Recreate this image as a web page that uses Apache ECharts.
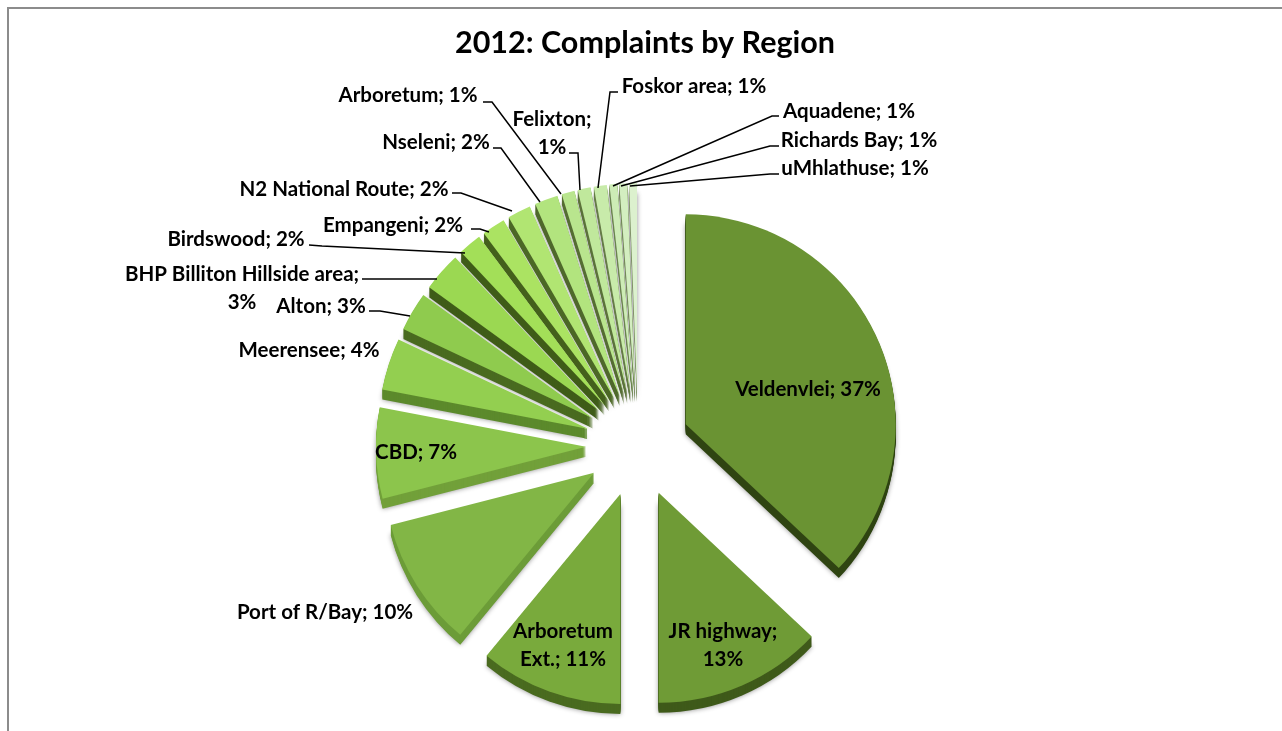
<!DOCTYPE html>
<html>
<head>
<meta charset="utf-8">
<title>2012: Complaints by Region</title>
<style>
  html, body { margin: 0; padding: 0; background: #fff; }
  #chart { width: 1282px; height: 731px; }
</style>
<script src="https://cdn.jsdelivr.net/npm/echarts@6/dist/echarts.min.js"></script>
</head>
<body>
<div id="chart"></div>
<script>
// values, the thin slices are narrower than their rounded 1%
const regions = ['Veldenvlei', 'JR highway', 'Arboretum Ext.', 'Port of R/Bay', 'CBD', 'Meerensee', 'Alton',
  'BHP Billiton Hillside area', 'Birdswood', 'Empangeni', 'N2 National Route', 'Nseleni', 'Arboretum',
  'Felixton', 'Foskor area', 'Aquadene', 'Richards Bay', 'uMhlathuse']
const percents = [37, 13, 11, 10, 7, 4, 3, 3, 1.8, 1.8, 1.8, 1.8, 1, 1, 1, 0.6, 0.6, 0.6]
// labels that wrap in the original
const wrapped = {
  'JR highway': 'JR highway;\n13%',
  'Arboretum Ext.': 'Arboretum\nExt.; 11%',
  'BHP Billiton Hillside area': 'BHP Billiton Hillside area;\n3%',
  'Felixton': 'Felixton;\n1%'
}

const faceColors = ['#6a9333', '#6f9b36', '#79aa3c', '#82b646', '#8cc54c', '#93cf50', '#8fcb4e',
  '#9bd852', '#a3df58', '#abe362', '#b1e572', '#b2e47e', '#b9e58e', '#c0e89c',
  '#c8ebaa', '#cdecb6', '#d3eec0', '#dcf1ce']
const sideColors = ['#2f4412', '#3f5a1a', '#4a6b20', '#6c9c38', '#72a03a', '#5c8a2c', '#4a6b20',
  '#3f5c18', '#3f5c18', '#44601c', '#4c6826', '#50692c', '#566e34', '#5c733c',
  '#667c48', '#6c8450', '#74895a', '#7e9266']

// label centres and leader lines, same order as regions
const labelPos = [[808, 389], [723, 645], [563, 645], [325, 612], [416, 452], [309, 350], [321, 306],
  [242, 288], [236, 239], [393, 225], [344, 189], [436, 142], [408, 95],
  [552, 133], [694, 86], [849, 111], [859, 140], [855, 168]]
const leaders = {
  6: [[369, 311], [380, 311], [410, 316]],
  7: [[362, 279], [437, 279]],
  8: [[309, 245], [322, 246], [465, 253]],
  9: [[471, 229], [480, 229], [489, 232]],
  10: [[452, 193], [461, 193], [512, 211]],
  11: [[493, 148], [501, 148], [540, 202]],
  12: [[483, 102], [492, 102], [561, 194]],
  13: [[569, 153], [578, 153], [580, 190]],
  14: [[618, 92], [610, 92], [598, 188]],
  15: [[779, 116], [772, 116], [613, 186]],
  16: [[779, 146], [770, 146], [621, 186]],
  17: [[779, 174], [770, 174], [630, 186]]
}

const FONT = 'Lato, "Liberation Sans", sans-serif'
const CENTER_X = 638
const CENTER_Y = 445
const RADIUS = 210
const OFFSET = 52
const DEPTH = 10

function basePie(dy, colors, selected) {
  return {
    type: 'pie',
    silent: true,
    clockwise: true,
    startAngle: 90,
    center: [CENTER_X, CENTER_Y + dy],
    radius: [0, RADIUS],
    selectedMode: selected ? 'multiple' : false,
    selectedOffset: OFFSET,
    avoidLabelOverlap: false,
    label: { show: false },
    labelLine: { show: false },
    data: regions.map((name, i) => ({
      name,
      value: percents[i],
      selected,
      itemStyle: { color: colors ? colors[i] : 'rgba(0,0,0,0)' }
    }))
  }
}

// extrusion: the same pie stacked a few times below the face
const series = []
for (let dy = DEPTH; dy > 0; dy -= 1) {
  const layer = basePie(dy, sideColors, true)
  if (dy === DEPTH) {
    layer.itemStyle = { shadowBlur: 5, shadowColor: 'rgba(0,0,0,0.45)' }
  }
  series.push(layer)
}
series.push(basePie(0, faceColors, true))

// see-through copy that only carries the labels, so they don't move with the exploded slices
series.push(Object.assign(basePie(0, null, false), {
  z: 5,
  label: {
    show: true,
    position: 'outside',
    color: '#000',
    fontFamily: FONT,
    fontWeight: 'bold',
    fontSize: 20.5,
    lineHeight: 28,
    align: 'center',
    formatter: (p) => wrapped[p.name] || `${p.name}; ${Math.round(p.value)}%`
  },
  labelLine: { show: true, lineStyle: { color: '#000', width: 1.5 } },
  labelLayout: (params) => {
    const [x, y] = labelPos[params.dataIndex]
    return {
      x, y,
      align: 'center',
      verticalAlign: 'middle',
      hideOverlap: false,
      labelLinePoints: leaders[params.dataIndex] || [[x, y], [x, y]]
    }
  }
}))

const chart = echarts.init(document.getElementById('chart'), null, { renderer: 'canvas' })
chart.setOption({
  animation: false,
  backgroundColor: '#fff',
  title: {
    text: '2012: Complaints by Region',
    left: 645,
    top: 28,
    textAlign: 'center',
    padding: 0,
    textStyle: { fontFamily: FONT, fontWeight: 'bold', fontSize: 30.5, color: '#000' }
  },
  graphic: [{
    type: 'polyline',
    silent: true,
    shape: { points: [[8, 731], [8, 8], [1282, 8]] },
    style: { stroke: '#8c8c8c', lineWidth: 2, fill: null }
  }],
  series
})
</script>
</body>
</html>
